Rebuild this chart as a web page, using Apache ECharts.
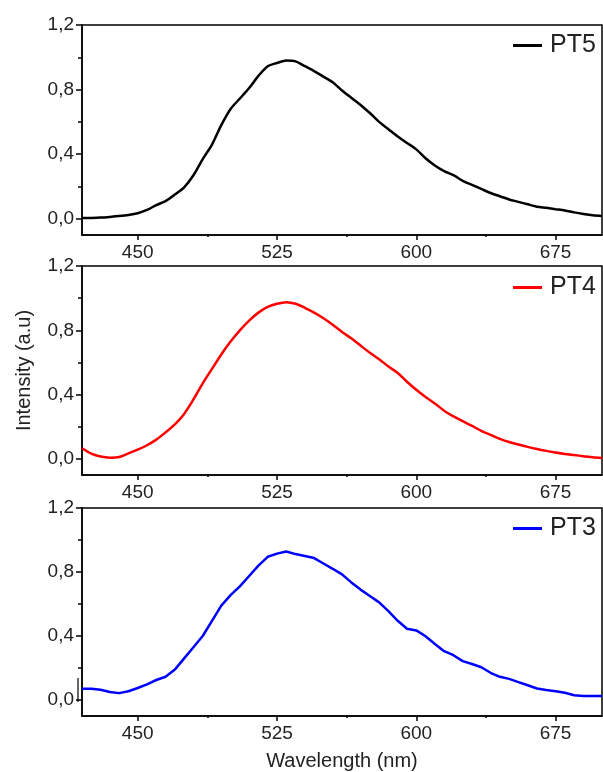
<!DOCTYPE html>
<html>
<head>
<meta charset="utf-8">
<script src="https://cdn.jsdelivr.net/npm/echarts@6/dist/echarts.min.js"></script>
<style>html,body{margin:0;padding:0;background:#fff}#c{width:603px;height:772px}</style>
</head>
<body>
<div id="c"></div>
<script>
const wavelengths = [420,425,430,435,440,445,450,455,460,465,470,475,480,485,490,495,500,505,510,515,520,525,530,535,540,545,550,555,560,565,570,575,580,585,590,595,600,605,610,615,620,625,630,635,640,645,650,655,660,665,670,675,680,685,690,695,700];
const pt5 = [0.005,0.006,0.008,0.012,0.017,0.024,0.035,0.055,0.085,0.11,0.15,0.195,0.27,0.37,0.46,0.58,0.68,0.745,0.81,0.885,0.945,0.965,0.98,0.975,0.945,0.915,0.88,0.845,0.795,0.75,0.705,0.655,0.60,0.555,0.51,0.47,0.43,0.375,0.33,0.295,0.27,0.235,0.21,0.185,0.16,0.14,0.12,0.105,0.09,0.075,0.068,0.06,0.052,0.04,0.03,0.022,0.018];
const pt4 = [0.066,0.033,0.015,0.008,0.012,0.035,0.058,0.085,0.12,0.165,0.215,0.28,0.37,0.47,0.56,0.65,0.73,0.80,0.86,0.91,0.945,0.965,0.975,0.965,0.94,0.91,0.875,0.835,0.79,0.75,0.705,0.66,0.62,0.575,0.535,0.48,0.43,0.385,0.345,0.30,0.265,0.235,0.205,0.175,0.15,0.125,0.105,0.09,0.075,0.062,0.05,0.04,0.031,0.024,0.017,0.01,0.005];
const pt3 = [0.071,0.071,0.064,0.05,0.043,0.055,0.075,0.098,0.125,0.145,0.19,0.26,0.33,0.40,0.495,0.59,0.655,0.71,0.775,0.84,0.895,0.915,0.928,0.912,0.9,0.887,0.853,0.82,0.785,0.735,0.69,0.65,0.61,0.555,0.495,0.445,0.435,0.398,0.35,0.305,0.28,0.243,0.225,0.205,0.17,0.145,0.132,0.112,0.092,0.072,0.062,0.055,0.045,0.03,0.025,0.025,0.025];
const xMajorTicks = [450,525,600,675];
const xMinorTicks = [487.5,562.5,637.5];
const yMajorTicks = [0,0.4,0.8,1.2];
const yMinorTicks = [0.2,0.6,1.0];
const seriesNames = ['PT5','PT4','PT3'];
const seriesColors = ['#000000','#ff0000','#0000ff'];
const seriesData = [pt5, pt4, pt3];

const FONT = 'Liberation Sans, Arial, sans-serif';
const TXT = '#222';
const grids = [
  {left:82, top:25, width:520, height:210},
  {left:82, top:266, width:520, height:209},
  {left:82, top:508, width:520, height:209}
];
const legendTops = [33, 275, 516];

const option = {
  animation:false,
  grid: grids.map(g => Object.assign({show:true, borderColor:'#000', borderWidth:1.5, backgroundColor:'transparent'}, g)),
  xAxis: [], yAxis: [], series: [], legend: []
};
grids.forEach((g, i) => {
  option.xAxis.push({
    type:'value', gridIndex:i, min:420, max:700, position:'bottom',
    axisLine:{show:true, onZero:false, lineStyle:{color:'#000', width:1.5}},
    axisTick:{show:true, inside:false, length:5, customValues:xMajorTicks, lineStyle:{color:'#000', width:1.5}},
    axisLabel:{show:true, customValues:xMajorTicks, margin:8, fontSize:19, fontFamily:FONT, color:TXT},
    splitLine:{show:false},
    name: i === 2 ? 'Wavelength (nm)' : '',
    nameLocation:'middle', nameGap:35,
    nameTextStyle:{fontSize:20, fontFamily:FONT, color:TXT}
  });
  option.xAxis.push({
    type:'value', gridIndex:i, min:420, max:700, position:'bottom',
    axisLine:{show:false, onZero:false},
    axisTick:{show:true, inside:false, length:2, customValues:xMinorTicks, lineStyle:{color:'#000', width:1.5}},
    axisLabel:{show:false}, splitLine:{show:false}
  });
  option.yAxis.push({
    type:'value', gridIndex:i, min:-0.1, max:1.2, position:'left',
    axisLine:{show:true, onZero:false, lineStyle:{color:'#000', width:1.5}},
    axisTick:{show:true, inside:false, length:6, customValues:yMajorTicks, lineStyle:{color:'#000', width:1.5}},
    axisLabel:{show:true, customValues:yMajorTicks, margin:8, fontSize:19, fontFamily:FONT, color:TXT,
      formatter: v => v.toFixed(1).replace('.', ',')},
    splitLine:{show:false},
    name: i === 1 ? 'Intensity (a.u)' : '',
    nameLocation:'middle', nameGap:48,
    nameTextStyle:{fontSize:20, fontFamily:FONT, color:TXT}
  });
  option.yAxis.push({
    type:'value', gridIndex:i, min:-0.1, max:1.2, position:'left',
    axisLine:{show:false, onZero:false},
    axisTick:{show:true, inside:false, length:4, customValues:yMinorTicks, lineStyle:{color:'#000', width:1.5}},
    axisLabel:{show:false}, splitLine:{show:false}
  });
  option.series.push({
    type:'line', name:seriesNames[i], xAxisIndex:i*2, yAxisIndex:i*2,
    data: wavelengths.map((w, k) => [w, seriesData[i][k]]),
    showSymbol:false, smooth: i === 2 ? false : 0.3,
    lineStyle:{color:seriesColors[i], width:2.5},
    itemStyle:{color:seriesColors[i]}
  });
  option.legend.push({
    data:[{name:seriesNames[i], icon:'rect'}],
    left:513, top:legendTops[i], itemWidth:29, itemHeight:3, itemGap:0,
    padding:0,
    textStyle:{fontSize:25, fontFamily:FONT, color:TXT, padding:[0,0,0,3]},
    selectedMode:false
  });
});
option.graphic = [{
  type:'line', shape:{x1:78, y1:678, x2:78, y2:702}, style:{stroke:'#000', lineWidth:1.2}
}];
const chart = echarts.init(document.getElementById('c'), null, {renderer:'canvas'});
chart.setOption(option);
</script>
</body>
</html>
